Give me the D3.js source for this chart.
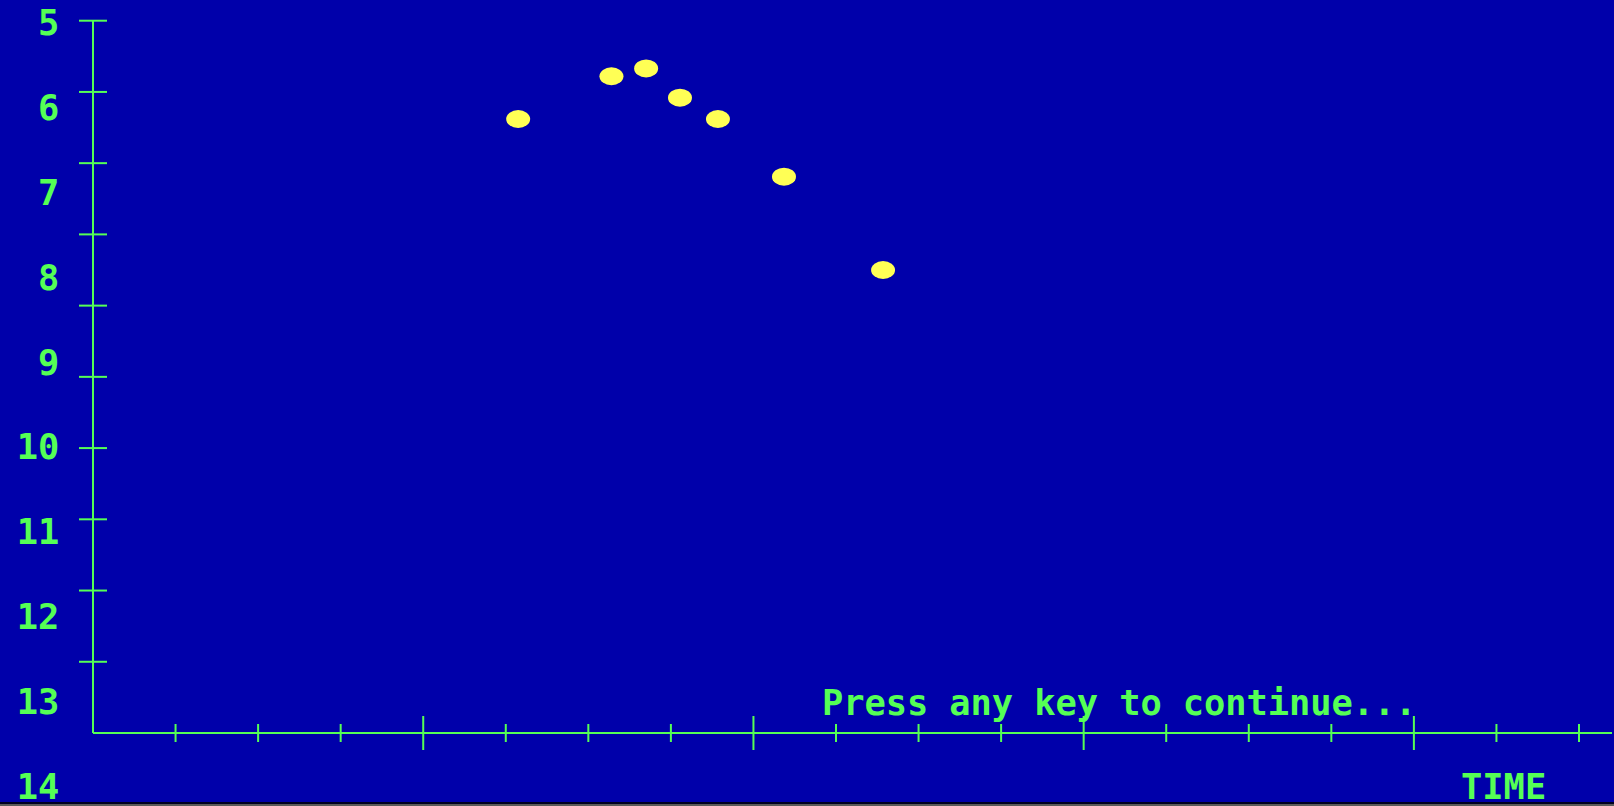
<!DOCTYPE html>
<html>
<head>
<meta charset="utf-8">
<script src="https://cdn.jsdelivr.net/npm/d3@7"></script>
<style>
  html, body { margin: 0; padding: 0; background: #0000aa; overflow: hidden; }
  svg { display: block; }
  .dos { font-family: "DejaVu Sans Mono", "Liberation Mono", monospace; font-weight: bold; fill: #55ff55; }
</style>
</head>
<body>
<div id="chart"></div>
<script>
// data (time in minor-tick units)
const timeValues = [5.15, 6.28, 6.70, 7.11, 7.57, 8.37, 9.57];
const depthValues = [6.38, 5.78, 5.67, 6.08, 6.38, 7.19, 8.50];
const yLabels = [5, 6, 7, 8, 9, 10, 11, 12, 13, 14];
const yTicks = [5, 6, 7, 8, 9, 10, 11, 12, 13, 14];
const xTicks = d3.range(1, 19);
const xLabel = "TIME";
const prompt = "Press any key to continue...";

const width = 1614, height = 806;
const green = "#55ff55", blue = "#0000aa", yellow = "#ffff55";
const charW = 21.3;

let svg = d3.select("#chart").append("svg")
    .attr("width", width)
    .attr("height", height);

svg.append("rect").attr("width", width).attr("height", height).attr("fill", blue);

// pixel scales for ticks/points, and the text-row scale for the labels
let yScale = d3.scaleLinear().domain([5, 15]).range([20.7, 733]);
let yLabelScale = d3.scaleLinear().domain([5, 14]).range([35, 799]);
let xScale = d3.scaleLinear().domain([0, 18]).range([93, 1579]);

let axes = svg.append("g").attr("stroke", green).attr("stroke-width", 2);

// y axis
axes.append("line")
    .attr("x1", xScale(0)).attr("x2", xScale(0))
    .attr("y1", yScale(5)).attr("y2", yScale(15));
axes.selectAll(".ytick").data(yTicks).enter().append("line")
    .attr("class", "ytick")
    .attr("x1", xScale(0) - 14).attr("x2", xScale(0) + 14)
    .attr("y1", d => yScale(d)).attr("y2", d => yScale(d));

// x axis
axes.append("line")
    .attr("x1", xScale(0)).attr("x2", 1612)
    .attr("y1", yScale(15)).attr("y2", yScale(15));
axes.selectAll(".xtick").data(xTicks).enter().append("line")
    .attr("class", "xtick")
    .attr("x1", d => xScale(d)).attr("x2", d => xScale(d))
    .attr("y1", d => yScale(15) - (d % 4 === 0 ? 17 : 9))
    .attr("y2", d => yScale(15) + (d % 4 === 0 ? 17 : 9));

// y labels
svg.selectAll(".ylab").data(yLabels).enter().append("text")
    .attr("class", "dos ylab")
    .attr("x", 59.3)
    .attr("y", d => yLabelScale(d))
    .attr("text-anchor", "end")
    .style("font-size", "35.4px")
    .text(d => d);

// prompt and axis title
svg.append("text")
    .attr("class", "dos")
    .attr("x", 822)
    .attr("y", 715)
    .style("font-size", "35.4px")
    .attr("textLength", prompt.length * charW - 2)
    .text(prompt);

svg.append("text")
    .attr("class", "dos")
    .attr("x", 1461)
    .attr("y", 799)
    .style("font-size", "35.4px")
    .text(xLabel);

// points
let points = timeValues.map((t, i) => ({t: t, v: depthValues[i]}));
svg.append("g").selectAll("ellipse").data(points).enter().append("ellipse")
    .attr("cx", d => xScale(d.t))
    .attr("cy", d => yScale(d.v))
    .attr("rx", 12)
    .attr("ry", 9)
    .attr("fill", yellow);

// bottom edge of the screen
svg.append("rect").attr("x", 0).attr("y", 802).attr("width", width).attr("height", 2).attr("fill", "#000022");
svg.append("rect").attr("x", 0).attr("y", 804).attr("width", width).attr("height", 2).attr("fill", "#5a5a5a");
</script>
</body>
</html>
